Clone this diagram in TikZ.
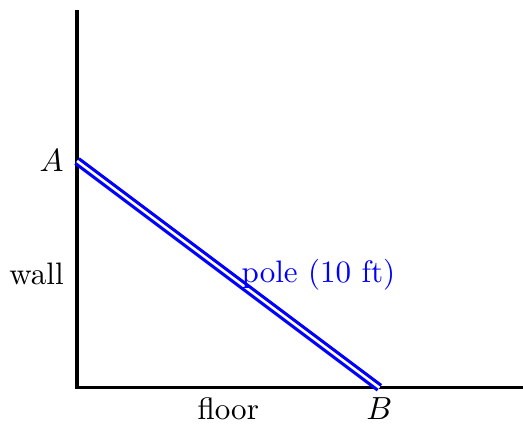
\documentclass[tikz,border=0pt]{standalone}
\usepackage{amsmath}
\usepackage{xcolor}
\usepackage{tikz}
\usetikzlibrary{positioning,calc}

\begin{document}
\begin{tikzpicture}[
    x=0.83cm, y=0.83cm,
    ground/.style={draw, line width=1.1pt},
    pole/.style={draw=blue, line width=1pt, double=white, double distance=0.8pt},
    tag/.style={font=\fontsize{9.7}{12}\selectfont, inner sep=3pt}
]
\useasboundingbox (-1.02,-0.49) rectangle (5.9,5.13);

% Corner, wall and floor ends
\coordinate (corner) at (0,0);
\coordinate (walltop) at (0,5);
\coordinate (floorend) at (6,0);

% Ends of the pole
\coordinate (A) at (0,3);
\coordinate (B) at (4,0);

% Wall and floor
\draw[ground] (walltop) -- (corner) -- (floorend);

% Pole
\draw[pole] (A) -- (B);

% Labels
\node[tag, left=1pt of A] (labelA) {$A$};
\node[tag, below=0pt of B] (labelB) {$B$};
\node[tag, below=0pt of $(corner)!0.5!(B)$] (floor) {floor};
\node[tag, left=1pt of $(corner)!0.5!(A)$] (wall) {wall};
\node[tag, text=blue, right=1pt of $(A)!0.5!(B)$] (polelabel) {pole (10 ft)};

\end{tikzpicture}
\end{document}
